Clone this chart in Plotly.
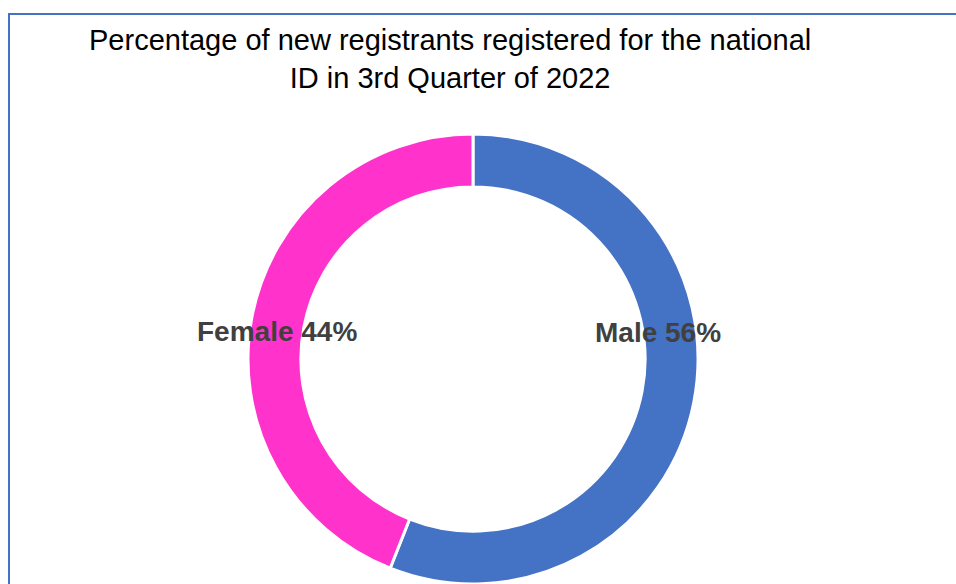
import plotly.graph_objects as go

labels = ["Male", "Female"]
values = [56, 44]
colors = ["#4472C4", "#FF33CC"]
title_lines = ["Percentage of new registrants registered for the national", "ID in 3rd Quarter of 2022"]

W, H = 956, 584

fig = go.Figure()
fig.add_trace(go.Pie(
    labels=labels,
    values=values,
    hole=0.765,
    sort=False,
    direction="clockwise",
    rotation=0,
    marker=dict(colors=colors, line=dict(color="white", width=3)),
    textinfo="none",
    hoverinfo="label+percent",
    showlegend=False,
    domain=dict(x=[248 / W, 698 / W], y=[0, 450 / H]),
))

# border
fig.add_shape(type="rect", xref="paper", yref="paper",
              x0=9 / W, x1=1.1, y0=-0.1, y1=1 - 14 / H,
              line=dict(color="#4472C4", width=2), fillcolor="rgba(0,0,0,0)", layer="above")

# title
fig.add_annotation(text="<br>".join(title_lines), xref="paper", yref="paper",
                   x=450 / W, y=1 - 58.5 / H, xanchor="center", yanchor="middle",
                   showarrow=False, align="center",
                   font=dict(family="Liberation Sans", size=29, color="#000000"))

# data labels
label_pos = {"Male": (658, 332), "Female": (277, 331)}
for lab, val in zip(labels, values):
    px, py = label_pos[lab]
    fig.add_annotation(text=f"<b>{lab} {val}%</b>", xref="paper", yref="paper",
                       x=px / W, y=1 - py / H, xanchor="center", yanchor="middle",
                       showarrow=False,
                       font=dict(family="Liberation Sans", size=28, color="#404040"))

fig.update_layout(width=W, height=H, margin=dict(l=0, r=0, t=0, b=0),
                  paper_bgcolor="white", plot_bgcolor="white")

fig.write_html("out.html")
